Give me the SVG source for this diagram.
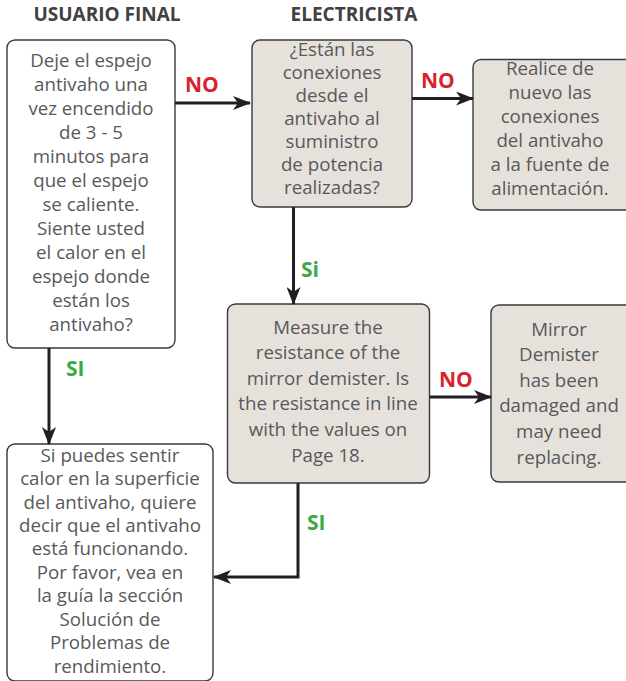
<svg xmlns="http://www.w3.org/2000/svg" width="626" height="681" viewBox="0 0 626 681">
<style>
.box{fill:#ffffff;stroke:#3a3a3a;stroke-width:1.4}
.gbox{fill:#e6e2db;stroke:#3a3a3a;stroke-width:1.4}
.t{font-family:"Open Sans","Liberation Sans",sans-serif;font-size:18.7px;fill:#58595b;text-anchor:middle}
.h{font-family:"Open Sans","Liberation Sans",sans-serif;font-size:19px;font-weight:bold;fill:#414042;text-anchor:middle}
.no{font-family:"Open Sans","Liberation Sans",sans-serif;font-size:21px;font-weight:bold;fill:#d7232e}
.si{font-family:"Open Sans","Liberation Sans",sans-serif;font-size:21px;font-weight:bold;fill:#3aaa47}
.c{fill:none;stroke:#231f20;stroke-width:3}
</style>
<defs>
<marker id="ah" viewBox="0 0 18 14" refX="17" refY="7" markerWidth="18" markerHeight="14" markerUnits="userSpaceOnUse" orient="auto">
<path d="M0,0 L18,7 L0,14 L5,7 z" fill="#231f20"/>
</marker>
</defs>
<text class="h" x="107" y="21">USUARIO FINAL</text>
<text class="h" x="354" y="21">ELECTRICISTA</text>
<g id="n1">
<rect class="box" x="7" y="40" width="168" height="308" rx="8"/>
<text class="t" x="91"><tspan x="91" y="67">Deje el espejo</tspan><tspan x="91" y="91">antivaho una</tspan><tspan x="91" y="115">vez encendido</tspan><tspan x="91" y="139">de 3 - 5</tspan><tspan x="91" y="163">minutos para</tspan><tspan x="91" y="187">que el espejo</tspan><tspan x="91" y="211">se caliente.</tspan><tspan x="91" y="235">Siente usted</tspan><tspan x="91" y="259">el calor en el</tspan><tspan x="91" y="283">espejo donde</tspan><tspan x="91" y="307">están los</tspan><tspan x="91" y="331">antivaho?</tspan></text>
</g>
<g id="n2">
<rect class="gbox" x="252" y="40" width="160" height="167" rx="8"/>
<text class="t" x="332"><tspan x="332" y="56">¿Están las</tspan><tspan x="332" y="79">conexiones</tspan><tspan x="332" y="102">desde el</tspan><tspan x="332" y="125">antivaho al</tspan><tspan x="332" y="148">suministro</tspan><tspan x="332" y="171">de potencia</tspan><tspan x="332" y="194">realizadas?</tspan></text>
</g>
<g id="n3">
<rect class="gbox" x="473" y="59.5" width="160" height="150.5" rx="8"/>
<text class="t" x="550"><tspan x="550" y="75">Realice de</tspan><tspan x="550" y="99">nuevo las</tspan><tspan x="550" y="123">conexiones</tspan><tspan x="550" y="147">del antivaho</tspan><tspan x="550" y="171">a la fuente de</tspan><tspan x="550" y="195">alimentación.</tspan></text>
</g>
<g id="n4">
<rect class="gbox" x="227.5" y="304" width="202" height="179" rx="8"/>
<text class="t" x="328"><tspan x="328" y="333.5">Measure the</tspan><tspan x="328" y="359">resistance of the</tspan><tspan x="328" y="384.5">mirror demister. Is</tspan><tspan x="328" y="410">the resistance in line</tspan><tspan x="328" y="436">with the values on</tspan><tspan x="328" y="461.5">Page 18.</tspan></text>
</g>
<g id="n5">
<rect class="gbox" x="491" y="305" width="145" height="177" rx="8"/>
<text class="t" x="559"><tspan x="559" y="335.5">Mirror</tspan><tspan x="559" y="361">Demister</tspan><tspan x="559" y="386.5">has been</tspan><tspan x="559" y="412">damaged and</tspan><tspan x="559" y="438">may need</tspan><tspan x="559" y="463.5">replacing.</tspan></text>
</g>
<g id="n6">
<rect class="box" x="7" y="444" width="206" height="237" rx="8"/>
<text class="t" x="110"><tspan x="110" y="461.5">Si puedes sentir</tspan><tspan x="110" y="485">calor en la superficie</tspan><tspan x="110" y="508.5">del antivaho, quiere</tspan><tspan x="110" y="532">decir que el antivaho</tspan><tspan x="110" y="555">está funcionando.</tspan><tspan x="110" y="578.5">Por favor, vea en</tspan><tspan x="110" y="602">la guía la sección</tspan><tspan x="110" y="625.5">Solución de</tspan><tspan x="110" y="649">Problemas de</tspan><tspan x="110" y="672.5">rendimiento.</tspan></text>
</g>
<g id="connectors">
<path class="c" d="M175,103 H250" marker-end="url(#ah)"/>
<path class="c" d="M412,98.5 H473" marker-end="url(#ah)"/>
<path class="c" d="M293.5,207 V304" marker-end="url(#ah)"/>
<path class="c" d="M429.5,397 H491" marker-end="url(#ah)"/>
<path class="c" d="M49,348 V444" marker-end="url(#ah)"/>
<path class="c" d="M298,483 V577 H214" marker-end="url(#ah)"/>
<text class="no" x="185" y="92">NO</text>
<text class="no" x="421" y="88">NO</text>
<text class="si" x="301" y="277">Si</text>
<text class="no" x="439" y="387">NO</text>
<text class="si" x="66" y="376">SI</text>
<text class="si" x="307" y="530">SI</text>
</g>
</svg>
